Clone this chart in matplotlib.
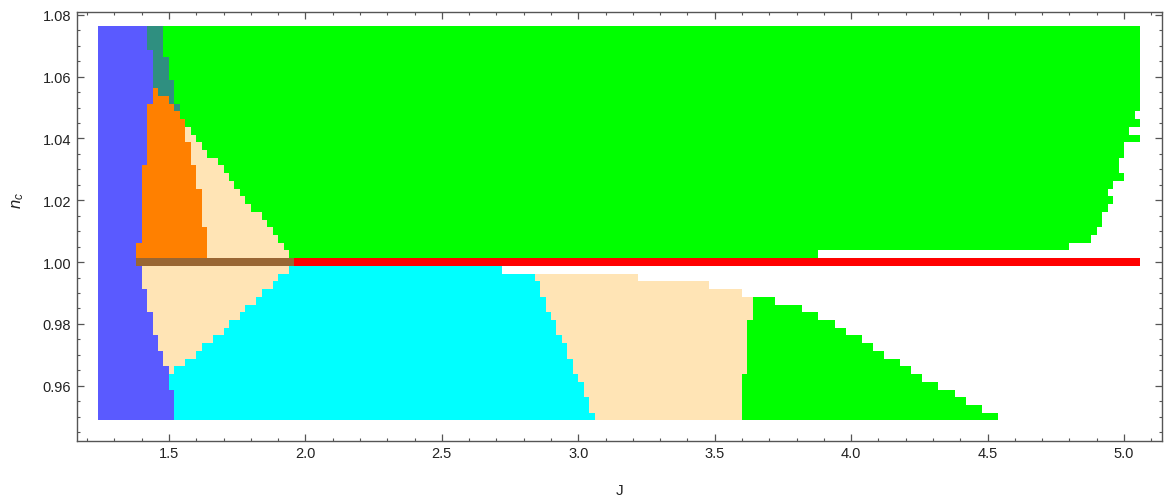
import numpy as np
import matplotlib
matplotlib.use("Agg")
import matplotlib.pyplot as plt
from matplotlib.colors import ListedColormap, BoundaryNorm
from matplotlib.ticker import MultipleLocator, FormatStrFormatter

plt.rcParams['font.family'] = ['Liberation Sans', 'DejaVu Sans']
plt.rcParams['mathtext.fontset'] = 'custom'
plt.rcParams['mathtext.it'] = 'Liberation Sans:italic'
plt.rcParams['mathtext.rm'] = 'Liberation Sans'

# scan grid (cell edges)
J_edges = np.linspace(1.24, 5.06, 192)
n_edges = np.linspace(0.94875, 1.07625, 52)

# 0 white, 1 blue, 2 teal, 3 orange, 4 peach, 5 green, 6 cyan, 7 brown, 8 red
phase_colors = ['white', '#5a5aff', '#2f8f80', '#ff8000', '#ffe4b5',
                '#00ff00', '#00ffff', '#996633', '#ff0000']

# rows above n_c = 1 : boundaries (in J) blue|orange|teal|peach|green|white
n_upper = [1.075, 1.0725, 1.07, 1.0675, 1.065, 1.0625, 1.06, 1.0575, 1.055, 1.0525,
           1.05, 1.0475, 1.045, 1.0425, 1.04, 1.0375, 1.035, 1.0325, 1.03, 1.0275,
           1.025, 1.0225, 1.02, 1.0175, 1.015, 1.0125, 1.01, 1.0075, 1.005, 1.0025]
blue_up = [1.42, 1.42, 1.42, 1.44, 1.44, 1.44, 1.44, 1.44, 1.44, 1.44,
           1.42, 1.42, 1.42, 1.42, 1.42, 1.42, 1.42, 1.42, 1.40, 1.40,
           1.40, 1.40, 1.40, 1.40, 1.40, 1.40, 1.40, 1.40, 1.38, 1.38]
orange_up = [1.42, 1.42, 1.42, 1.44, 1.44, 1.44, 1.44, 1.44, 1.46, 1.50,
             1.52, 1.54, 1.56, 1.56, 1.56, 1.58, 1.58, 1.58, 1.60, 1.60,
             1.60, 1.62, 1.62, 1.62, 1.62, 1.62, 1.64, 1.64, 1.64, 1.64]
teal_up = [1.48, 1.48, 1.48, 1.48, 1.50, 1.50, 1.50, 1.52, 1.52, 1.52,
           1.54, 1.54, 1.56, 1.56, 1.56, 1.58, 1.58, 1.58, 1.60, 1.60,
           1.60, 1.62, 1.62, 1.62, 1.62, 1.62, 1.64, 1.64, 1.64, 1.64]
green_left_up = [1.48, 1.48, 1.48, 1.48, 1.50, 1.50, 1.50, 1.52, 1.52, 1.52,
                 1.54, 1.54, 1.56, 1.58, 1.60, 1.62, 1.64, 1.68, 1.70, 1.72,
                 1.74, 1.76, 1.78, 1.80, 1.84, 1.86, 1.88, 1.90, 1.92, 1.94]
green_right_up = [5.06, 5.06, 5.06, 5.06, 5.06, 5.06, 5.06, 5.06, 5.06, 5.06,
                  5.06, 5.04, 5.06, 5.02, 5.06, 5.00, 5.00, 4.98, 4.98, 5.00,
                  4.96, 4.94, 4.96, 4.94, 4.92, 4.92, 4.90, 4.88, 4.80, 3.88]

# row at n_c = 1
n_mid = 1.0
blue_mid, brown_mid, red_mid = 1.38, 1.96, 5.06

# rows below n_c = 1 : boundaries blue|peach|cyan|peach|green|white
n_lower = [0.9975, 0.995, 0.9925, 0.99, 0.9875, 0.985, 0.9825, 0.98, 0.9775, 0.975,
           0.9725, 0.97, 0.9675, 0.965, 0.9625, 0.96, 0.9575, 0.955, 0.9525, 0.95]
blue_lo = [1.40, 1.40, 1.40, 1.42, 1.42, 1.42, 1.44, 1.44, 1.44, 1.46,
           1.46, 1.48, 1.48, 1.50, 1.50, 1.50, 1.52, 1.52, 1.52, 1.52]
peach_lo = [1.94, 1.90, 1.88, 1.84, 1.82, 1.78, 1.76, 1.72, 1.70, 1.66,
            1.62, 1.60, 1.56, 1.52, 1.50, 1.50, 1.52, 1.52, 1.52, 1.52]
cyan_lo = [2.72, 2.84, 2.86, 2.86, 2.88, 2.88, 2.90, 2.92, 2.92, 2.94,
           2.96, 2.96, 2.98, 2.98, 3.00, 3.02, 3.02, 3.04, 3.04, 3.06]
peach2_lo = [2.72, 3.22, 3.48, 3.60, 3.64, 3.64, 3.64, 3.62, 3.62, 3.62,
             3.62, 3.62, 3.62, 3.62, 3.60, 3.60, 3.60, 3.60, 3.60, 3.60]
green_lo = [2.72, 3.22, 3.48, 3.60, 3.72, 3.82, 3.88, 3.94, 3.98, 4.04,
            4.08, 4.12, 4.18, 4.22, 4.26, 4.32, 4.38, 4.42, 4.48, 4.54]

J_c = 0.5 * (J_edges[1:] + J_edges[:-1])
n_c = 0.5 * (n_edges[1:] + n_edges[:-1])
Z = np.zeros((len(n_c), len(J_c)), dtype=int)


def fill_row(n, bounds, codes):
    r = np.argmin(np.abs(n_c - n))
    start = J_edges[0]
    for b, code in zip(bounds, codes):
        Z[r, (J_c > start) & (J_c < b)] = code
        start = b


for i, n in enumerate(n_upper):
    fill_row(n, [blue_up[i], orange_up[i], teal_up[i], green_left_up[i], green_right_up[i]],
             [1, 3, 2, 4, 5])
fill_row(n_mid, [blue_mid, brown_mid, red_mid], [1, 7, 8])
for i, n in enumerate(n_lower):
    fill_row(n, [blue_lo[i], peach_lo[i], cyan_lo[i], peach2_lo[i], green_lo[i]],
             [1, 4, 6, 4, 5])

cmap = ListedColormap(phase_colors)
norm = BoundaryNorm(np.arange(-0.5, len(phase_colors) + 0.5), cmap.N)

fig = plt.figure(figsize=(11.64, 5.02), dpi=100)
ax = fig.add_axes([0.0659, 0.1201, 0.9321, 0.8534])
ax.pcolormesh(J_edges, n_edges, Z, cmap=cmap, norm=norm, antialiased=False, linewidth=0)

ax.set_xlim(1.162, 5.138)
ax.set_ylim(0.9422, 1.0808)

frame_col = '#555555'
for s in ax.spines.values():
    s.set_color(frame_col)
    s.set_linewidth(1.0)
ax.xaxis.set_major_locator(MultipleLocator(0.5))
ax.xaxis.set_minor_locator(MultipleLocator(0.1))
ax.yaxis.set_major_locator(MultipleLocator(0.02))
ax.yaxis.set_minor_locator(MultipleLocator(0.005))
ax.xaxis.set_major_formatter(FormatStrFormatter('%.1f'))
ax.yaxis.set_major_formatter(FormatStrFormatter('%.2f'))
ax.tick_params(which='both', direction='in', top=True, right=True, color=frame_col,
               labelsize=10.5, labelcolor='#222222')
ax.tick_params(which='major', length=5, width=0.9)
ax.tick_params(which='minor', length=2.5, width=0.8)
ax.tick_params(axis='x', which='major', pad=4)
ax.tick_params(axis='y', which='major', pad=4)

ax.set_xlabel('J', fontsize=11, color='#222222')
ax.xaxis.set_label_coords(0.5, -0.098)
ax.set_ylabel(r'$n_c$', fontsize=12, color='#222222')
ax.yaxis.set_label_coords(-0.047, 0.564)

fig.savefig('out.png', dpi=100)
